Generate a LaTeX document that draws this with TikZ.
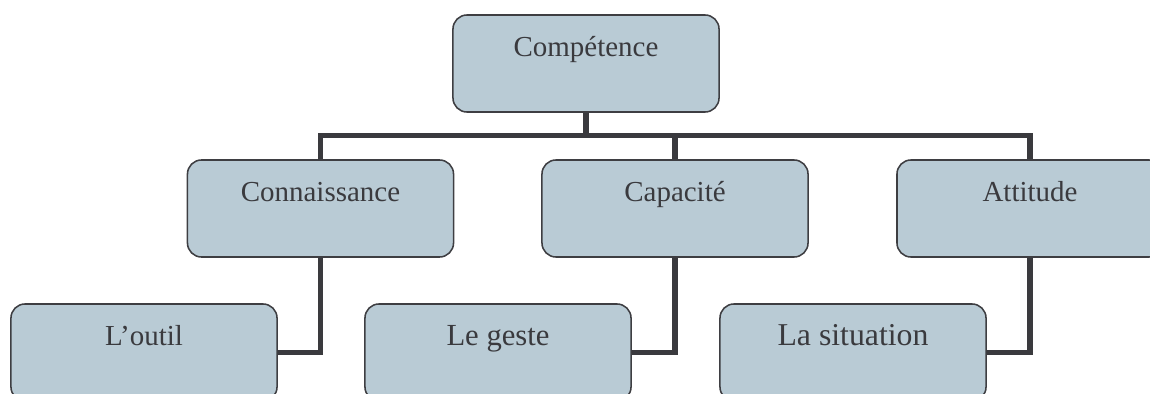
\documentclass[tikz,border=0pt]{standalone}
\usepackage{fontspec}
\setmainfont{Liberation Serif}
\definecolor{boxfill}{RGB}{185,203,213}
\definecolor{boxline}{RGB}{62,62,66}
\definecolor{linkcol}{RGB}{58,58,62}
\definecolor{txtcol}{RGB}{58,58,62}
\begin{document}
\begin{tikzpicture}[x=0.025cm, y=0.025cm,
    box/.style={rectangle, draw=boxline, line width=1.1pt, fill=boxfill, rounded corners=10pt,
      minimum width=6.65cm, inner sep=0pt, text height=1.05cm, text depth=1.375cm,
      text=txtcol, font=\fontsize{20.6}{24}\selectfont},
    link/.style={draw=linkcol, line width=3.6pt, line join=miter}]
      \useasboundingbox (0,0) rectangle (1150,394);

      % levels
      \node[box] (comp) at (586, 330.5) {Compétence};
      \node[box] (conn) at (320.5, 185.5) {Connaissance};
      \node[box] (capa) at (675, 185.5) {Capacité};
      \node[box] (atti) at (1030, 185.5) {Attitude};

      % leaves
      \node[box] (outil) at (144, 41.5) {L’outil};
      \node[box, font=\fontsize{21.8}{25}\selectfont] (geste) at (498, 41.5) {Le geste};
      \node[box, font=\fontsize{22.6}{26}\selectfont] (situ) at (853, 41.5) {La situation};

      % links
      \draw[link] (comp.south) -- ++(0,-24);
      \draw[link] (conn.north) -- ++(0,24) -| (atti.north);
      \draw[link] (capa.north) -- ++(0,24);
      \draw[link] (conn.south) |- (outil.east);
      \draw[link] (capa.south) |- (geste.east);
      \draw[link] (atti.south) |- (situ.east);
    \end{tikzpicture}
\end{document}
